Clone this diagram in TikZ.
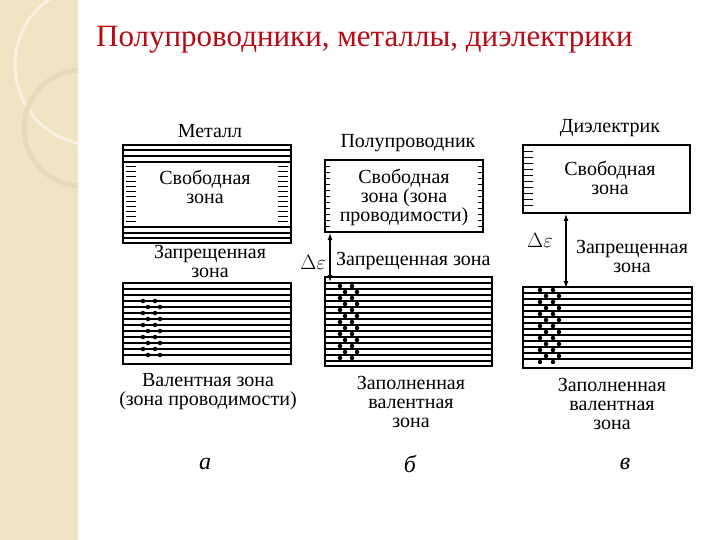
\documentclass[tikz,border=0pt]{standalone}
\usepackage{fontspec}
\setmainfont{Liberation Serif}
\usetikzlibrary{arrows.meta}
\begin{document}
\begin{tikzpicture}[x=1pt,y=-1pt,
  lbl/.style={font=\fontsize{20}{19}\selectfont, align=center, inner sep=0pt},
  band/.style={line width=2.2pt},
  ln/.style={line width=1.6pt},
  arr/.style={{Latex[length=7pt,width=5pt]}-{Latex[length=7pt,width=5pt]}, line width=1.2pt},
  dot/.style={fill=black, circle, inner sep=0pt, minimum size=4.5pt}]
\useasboundingbox (0,0) rectangle (720,540);
\fill[white] (0,0) rectangle (720,540);
\fill[fill={rgb,255:red,241;green,228;blue,194}] (0,0) rectangle (78,540);
\begin{scope}
\clip (0,0) rectangle (78,540);
\draw[white, line width=3pt, opacity=0.5] (95,65) circle (80);
\draw[color={rgb,255:red,230;green,218;blue,185}, line width=5pt] (82,128) circle (58);
\end{scope}
\node[lbl, font=\fontsize{31}{31}\selectfont, text={rgb,255:red,185;green,10;blue,20}, anchor=west] (title) at (96,40) {Полупроводники, металлы, диэлектрики};

% ---- Metal
\node[lbl] (mt) at (210,131) {Металл};
\draw[band] (123,145) rectangle (291,243);
\foreach \y in {150,156,162,227,233,238} \draw[ln] (123,\y) -- (291,\y);
\foreach \y in {166,171,...,222} {\draw[line width=0.8pt] (126,\y) -- (136,\y); \draw[line width=0.8pt] (278,\y) -- (288,\y);}
\node[lbl] (mf) at (205,187) {Свободная\\зона};
\node[lbl] (mz) at (210,261) {Запрещенная\\зона};
\draw[band] (123,283) rectangle (291,364);
\foreach \y in {289,295,...,360} \draw[ln] (123,\y) -- (291,\y);
\foreach \i in {0,...,9} {
  \pgfmathsetmacro{\y}{301+6*\i}
  \pgfmathsetmacro{\o}{mod(\i,2)*5}
  \node[dot] at (143+\o,\y) {}; \node[dot] at (155+\o,\y) {};}
\node[lbl] (mv) at (208,392) {Валентная зона\\(зона проводимости)};
\node[lbl, font=\fontsize{24}{24}\selectfont\itshape] (la) at (205,464) {а};

% ---- Semiconductor
\node[lbl] (st) at (408,143) {Полупроводник};
\draw[band] (325,160) rectangle (483,232);
\foreach \y in {166,172,...,228} {\draw[line width=0.8pt] (325,\y) -- (330,\y); \draw[line width=0.8pt] (478,\y) -- (483,\y);}
\node[lbl] (sf) at (404,197) {Свободная\\зона (зона\\проводимости)};
\coordinate (sa) at (330,233);
\coordinate (sb) at (330,282);
\draw[arr] (sa) -- (sb);
\node[lbl, anchor=east] (sd) at (326,262) {$\Delta\varepsilon$};
\node[lbl, anchor=west] (sz) at (336,261) {Запрещенная зона};
\draw[band] (325,277) rectangle (492,366);
\foreach \y in {283,289,...,362} \draw[ln] (325,\y) -- (492,\y);
\foreach \i in {0,...,12} {
  \pgfmathsetmacro{\y}{286+6*\i}
  \pgfmathsetmacro{\o}{mod(\i,2)*5}
  \node[dot] at (340+\o,\y) {}; \node[dot] at (352+\o,\y) {};}
\node[lbl] (sv) at (411,402) {Заполненная\\валентная\\зона};
\node[lbl, font=\fontsize{24}{24}\selectfont\itshape] (lb) at (410,464) {б};

% ---- Dielectric
\node[lbl] (dt) at (610,128) {Диэлектрик};
\draw[band] (523,145) rectangle (690,213);
\foreach \y in {151,157,...,209} \draw[line width=0.8pt] (523,\y) -- (533,\y);
\node[lbl] (df) at (610,178) {Свободная\\зона};
\coordinate (da) at (566,214);
\coordinate (db) at (566,288);
\draw[arr] (da) -- (db);
\node[lbl] (dd) at (540,240) {$\Delta\varepsilon$};
\node[lbl] (dz) at (632,256) {Запрещенная\\зона};
\draw[band] (523,287) rectangle (692,368);
\foreach \y in {293,299,...,364} \draw[ln] (523,\y) -- (692,\y);
\foreach \i in {0,...,12} {
  \pgfmathsetmacro{\y}{290+6*\i}
  \pgfmathsetmacro{\o}{mod(\i,2)*6}
  \node[dot] at (540+\o,\y) {}; \node[dot] at (553+\o,\y) {};}
\node[lbl] (dv) at (612,404) {Заполненная\\валентная\\зона};
\node[lbl, font=\fontsize{24}{24}\selectfont\itshape] (lc) at (625,464) {в};
\end{tikzpicture}
\end{document}
